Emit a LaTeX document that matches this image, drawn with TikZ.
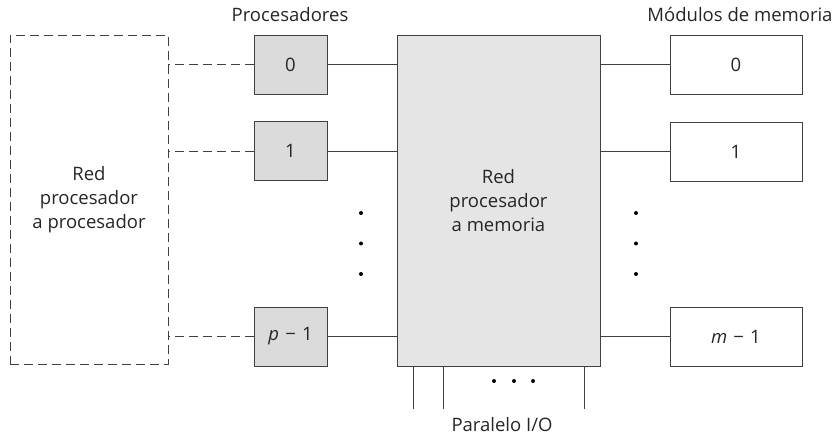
\documentclass[tikz,border=0pt]{standalone}
\usepackage{fontspec}
\setmainfont{Open Sans}
\begin{document}
\begin{tikzpicture}[x=1pt,y=-1pt,
  every node/.style={font=\fontsize{18.5}{24}\selectfont, text=black!85},
  ln/.style={draw=black!75, line width=0.9pt},
  dsh/.style={draw=black!75, line width=0.9pt, dash pattern=on 9pt off 5pt},
  proc/.style={ln, fill=black!14, minimum width=73pt, minimum height=59pt, inner sep=0pt},
  mem/.style={ln, fill=white, minimum width=132pt, minimum height=59pt, inner sep=0pt},
  dotc/.style={circle, fill=black, inner sep=0pt, minimum size=4pt}]
\useasboundingbox (0,0) rectangle (840,438);
% networks
\node[dsh, minimum width=158pt, minimum height=329pt, inner sep=0pt, align=center] (rpp) at (89,199.5) {Red\\procesador\\a procesador};
\node[ln, fill=black!10, minimum width=203pt, minimum height=331pt, inner sep=0pt, align=center] (rpm) at (498.5,200.5) {Red\\procesador\\a memoria};
% processors
\node[proc] (p0) at (290.5,64.5) {0};
\node[proc] (p1) at (290.5,151) {1};
\node[proc] (pp) at (290.5,336.5) {\textit{p}\,\,−\,\,1};
% memories
\node[mem] (m0) at (736,64.5) {0};
\node[mem] (m1) at (736,151.5) {1};
\node[mem] (mm) at (736,336.5) {\textit{m}\,\,−\,\,1};
% labels
\node (lp) at (290,15) {Procesadores};
\node (lm) at (740,15) {Módulos de memoria};
\node (lio) at (502,425) {Paralelo I/O};
% dashed connectors
\foreach \p in {p0,p1,pp} \draw[dsh] (\p.west) -- (\p.west -| rpp.east);
% solid connectors
\foreach \p in {p0,p1,pp} \draw[ln] (\p.east) -- (\p.east -| rpm.west);
\foreach \m in {m0,m1,mm} \draw[ln] (\m.west) -- (\m.west -| rpm.east);
% I/O lines
\coordinate (io1) at (413,409);
\coordinate (io2) at (443,409);
\coordinate (io3) at (584,409);
\foreach \c in {io1,io2,io3} \draw[ln] (\c |- rpm.south) -- (\c);
% dots
\foreach \y [count=\i] in {213,243.5,274} {
  \node[dotc] (dp\i) at (361,\y) {};
  \node[dotc] (dm\i) at (636,\y) {};
}
\foreach \x [count=\i] in {494,514,533} \node[dotc] (db\i) at (\x,381) {};
\end{tikzpicture}
\end{document}
